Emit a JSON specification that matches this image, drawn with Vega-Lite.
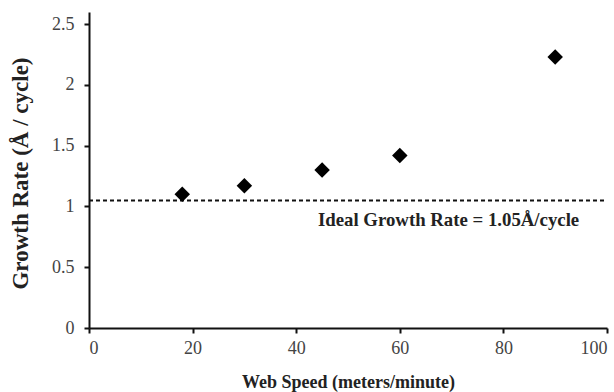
{
  "$schema": "https://vega.github.io/schema/vega-lite/v6.json",
  "autosize": {"type": "fit", "contains": "padding"},
  "width": 614,
  "height": 392,
  "padding": {"left": 9, "top": 12, "right": 3, "bottom": 1},
  "background": "white",
  "config": {
    "view": {"stroke": null},
    "font": "Liberation Serif",
    "axis": {
      "grid": false,
      "domainColor": "#111",
      "domainWidth": 2,
      "tickColor": "#111",
      "tickWidth": 2,
      "tickSize": 5,
      "labelFont": "Liberation Serif",
      "labelFontSize": 18,
      "labelColor": "#444",
      "titleFont": "Liberation Serif",
      "titleFontWeight": "bold",
      "titleColor": "#222"
    }
  },
  "datasets": {
    "pts": [
      {"speed": 18, "rate": 1.10},
      {"speed": 30, "rate": 1.17},
      {"speed": 45, "rate": 1.30},
      {"speed": 60, "rate": 1.42},
      {"speed": 90, "rate": 2.23}
    ],
    "ideal": [
      {"speed": 0, "rate": 1.05},
      {"speed": 100, "rate": 1.05}
    ],
    "label": [
      {"speed": 44.2, "rate": 0.89, "text": "Ideal Growth Rate = 1.05Å/cycle"}
    ]
  },
  "layer": [
    {
      "data": {"name": "ideal"},
      "mark": {"type": "line", "color": "#111", "strokeWidth": 2, "strokeDash": [4, 3], "clip": false},
      "encoding": {
        "x": {"field": "speed", "type": "quantitative", "scale": {"domain": [0, 100]},
              "axis": {"values": [0, 20, 40, 60, 80, 100], "title": "Web Speed (meters/minute)", "titleFontSize": 18, "labelPadding": 6, "titlePadding": 16}},
        "y": {"field": "rate", "type": "quantitative", "scale": {"domain": [0, 2.5]},
              "axis": {"values": [0, 0.5, 1, 1.5, 2, 2.5], "format": "~g", "title": "Growth Rate (Å / cycle)", "titleFontSize": 23, "titleY": 161, "labelPadding": 10, "titlePadding": 19}}
      }
    },
    {
      "data": {"name": "pts"},
      "mark": {"type": "point", "shape": "diamond", "filled": true, "color": "#000", "size": 240, "opacity": 1},
      "encoding": {
        "x": {"field": "speed", "type": "quantitative"},
        "y": {"field": "rate", "type": "quantitative"}
      }
    },
    {
      "data": {"name": "label"},
      "mark": {"type": "text", "align": "left", "baseline": "middle", "fontSize": 18.8, "fontWeight": "bold", "font": "Liberation Serif", "color": "#222"},
      "encoding": {
        "x": {"field": "speed", "type": "quantitative"},
        "y": {"field": "rate", "type": "quantitative"},
        "text": {"field": "text"}
      }
    }
  ]
}
